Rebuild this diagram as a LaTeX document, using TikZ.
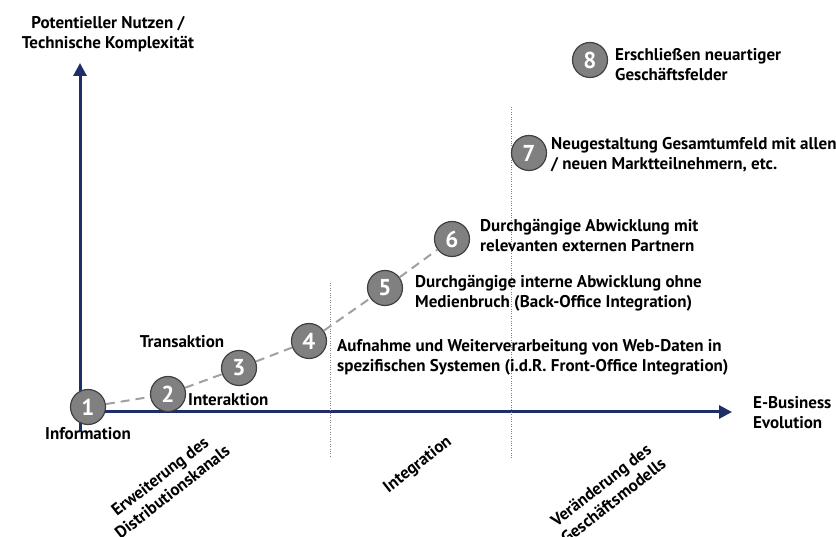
\documentclass[tikz,border=0pt]{standalone}
\usepackage{fontspec}
\setmainfont{PT Sans}
\usetikzlibrary{arrows.meta,positioning}
\definecolor{EbNavy}{RGB}{31,45,104}
\definecolor{EbGray}{RGB}{128,128,128}
\definecolor{EbDark}{RGB}{64,64,64}
\definecolor{EbDash}{RGB}{160,160,160}
\tikzset{
  eb/axis/.style={-{Triangle[length=13pt,width=13pt]}, line width=3pt, draw=EbNavy},
  eb/stage/.style={
    circle,
    draw=EbDark,
    line width=1.2pt,
    fill=EbGray,
    text=white,
    minimum size=35pt,
    inner sep=0pt,
    font=\fontsize{23}{23}\selectfont\bfseries
  },
  eb/dash/.style={line width=2pt, draw=EbDash, dash pattern=on 9pt off 6pt},
  eb/divider/.style={thin, draw=EbGray, dotted},
  eb/label/.style={font=\fontsize{17}{20}\selectfont\bfseries, text=black, align=left, inner sep=0pt},
  eb/phase/.style={eb/label, align=center, rotate=38}
}
\begin{document}
\begin{tikzpicture}[x=1pt,y=-1pt]
  \useasboundingbox (0,0) rectangle (836,537);
  % axes
  \coordinate (origin) at (80,412);
  \coordinate (ybase) at (80,432);
  \coordinate (ytip) at (80,63);
  \coordinate (xtip) at (732,412);
  \draw[eb/axis] (ybase) -- (ytip);
  \draw[eb/axis] (origin) -- (xtip);
  % phase dividers
  \coordinate (d1top) at (330,283);
  \coordinate (d1bot) at (330,458);
  \coordinate (d2top) at (511,107);
  \coordinate (d2bot) at (511,458);
  \draw[eb/divider] (d1top) -- (d1bot);
  \draw[eb/divider] (d2top) -- (d2bot);
  % stages
  \node[eb/stage] (s1) at (88,407) {1};
  \node[eb/stage] (s2) at (168,394) {2};
  \node[eb/stage] (s3) at (239,368) {3};
  \node[eb/stage] (s4) at (309,341) {4};
  \node[eb/stage] (s5) at (385,288) {5};
  \node[eb/stage] (s6) at (452,239) {6};
  \node[eb/stage] (s7) at (529,153) {7};
  \node[eb/stage] (s8) at (590,60) {8};
  \draw[eb/dash] (s1) -- (s2) -- (s3) -- (s4) -- (s5) -- (s6);
  % texts
  \node[eb/label, align=center] (ytitle) at (108,34) {Potentieller Nutzen /\\Technische Komplexität};
  \node[eb/label, anchor=west] (xtitle) at (753,413) {E-Business\\Evolution};
  \node[eb/label] (t1) at (88,434) {Information};
  \node[eb/label, anchor=west] (t2) at (188,400) {Interaktion};
  \node[eb/label] (t3) at (182,342) {Transaktion};
  \node[eb/label, anchor=west] (t4) at (337,357) {Aufnahme und Weiterverarbeitung von Web-Daten in\\spezifischen Systemen (i.d.R. Front-Office Integration)};
  \node[eb/label, anchor=west] (t5) at (415,293) {Durchgängige interne Abwicklung ohne\\Medienbruch (Back-Office Integration)};
  \node[eb/label, anchor=west] (t6) at (480,235) {Durchgängige Abwicklung mit\\relevanten externen Partnern};
  \node[eb/label, anchor=west] (t7) at (551,155) {Neugestaltung Gesamtumfeld mit allen\\/ neuen Marktteilnehmern, etc.};
  \node[eb/label, anchor=west] (t8) at (615,65) {Erschließen neuartiger\\Geschäftsfelder};
  % phases
  \node[eb/phase] (p1) at (166,484) {Erweiterung des\\Distributionskanals};
  \node[eb/phase] (p2) at (418,465) {Integration};
  \node[eb/phase] (p3) at (607,493) {Veränderung des\\Geschäftsmodells};
\end{tikzpicture}
\end{document}
